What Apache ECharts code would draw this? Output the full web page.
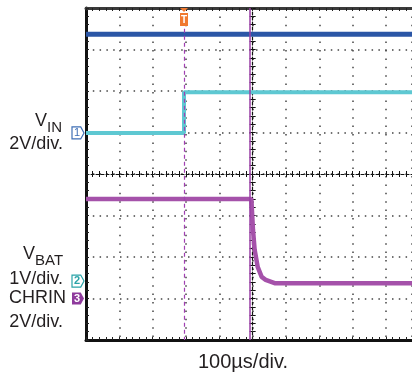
<!DOCTYPE html>
<html>
<head>
<meta charset="utf-8">
<script src="https://cdn.jsdelivr.net/npm/echarts@6/dist/echarts.min.js"></script>
<style>
  html, body { margin: 0; padding: 0; background: #fff; }
  #chart { width: 412px; height: 375px; }
</style>
</head>
<body>
<div id="chart"></div>
<script>
// time in µs relative to screen centre, amplitude in divisions
const blueT = [-500, 478]
const blueV = [3.37, 3.37]

const cyanT = [-500, -206, -206, 478]
const cyanV = [0.99, 0.99, 1.97, 1.97]

const purpleT = [-500, -4, 1, 6, 15, 27, 39, 66, 478]
const purpleV = [-0.6, -0.6, -1.35, -1.83, -2.24, -2.48, -2.55, -2.63, -2.63]

const triggerT = -206
const cursorT = -9

const chLabels = ['1', '2', '3']
const chLevels = [0.99, -2.58, -3.0]

const timeLabel = '100µs/div.'

const FONT = '"Liberation Sans", Arial, Helvetica, sans-serif'
const ink = '#231f20'

const pair = (ts, vs) => ts.map((t, i) => [t, vs[i]])

const chart = echarts.init(document.getElementById('chart'), null, { renderer: 'canvas' })

const pentagon = 'path://M0,0L8,0L11,6L8,12L0,12Z'
const pin = 'path://M0,0L8,0L4,4Z M0,5L8,5L8,18L0,18Z'

const dots = (gap) => ({ show: true, lineStyle: { color: '#444', width: 1.5, type: [1.5, gap] } })

const frameAxis = (extra) => Object.assign({
  type: 'value',
  axisLabel: { show: false },
  axisLine: { show: true, onZero: false, lineStyle: { color: '#111', width: 3 } },
  axisTick: { show: true, inside: true, length: 3, lineStyle: { color: '#222' } },
  minorTick: { show: true, splitNumber: 5, length: 3, lineStyle: { color: '#222' } },
  splitLine: { show: false },
}, extra)

const centreAxis = (inside, extra) => Object.assign({
  type: 'value',
  axisLabel: { show: false },
  axisLine: {
    show: inside, onZero: true, onZeroAxisIndex: 0,
    lineStyle: { color: '#111', width: 1.2, type: [3, 2] },
  },
  axisTick: { show: true, inside, length: 3, lineStyle: { color: '#111' } },
  minorTick: { show: true, splitNumber: 5, length: 3, lineStyle: { color: '#111' } },
  splitLine: { show: false },
}, extra)

const xRange = { min: -500, max: 478, interval: 100 }
const yRange = { min: -4, max: 4, interval: 1 }

const text = (str, x, y, align, size) => ({
  type: 'text',
  x, y,
  style: { text: str, font: `${size || 18}px ${FONT}`, fill: ink, align: align || 'right', verticalAlign: 'middle' },
})

chart.setOption({
  animation: false,
  grid: { left: 86, right: 0, top: 8, bottom: 35 },
  xAxis: [
    frameAxis(Object.assign({ position: 'bottom', splitLine: dots(6.9) }, xRange)),
    frameAxis(Object.assign({ position: 'top', axisLine: { show: true, onZero: false, lineStyle: { color: '#3a3a3a', width: 3 } } }, xRange)),
    centreAxis(true, xRange),
    centreAxis(false, xRange),
  ],
  yAxis: [
    frameAxis(Object.assign({ position: 'left', splitLine: dots(5.3) }, yRange)),
    centreAxis(true, yRange),
    centreAxis(false, yRange),
  ],
  series: [
    {
      name: 'CHRIN',
      type: 'line',
      data: pair(blueT, blueV),
      showSymbol: false,
      lineStyle: { color: '#2b56a6', width: 5 },
      markLine: {
        silent: true,
        symbol: 'none',
        label: { show: false },
        data: [
          { xAxis: cursorT, lineStyle: { color: '#9a3fa6', width: 1.5, type: 'solid' } },
          [
            { coord: [triggerT, 3.5], lineStyle: { color: '#a13fb2', width: 1.2, type: [4, 3] } },
            { coord: [triggerT, -4] },
          ],
        ],
      },
      markPoint: {
        silent: true,
        data: [{
          coord: [triggerT, 4],
          symbol: pin,
          symbolSize: [8, 18],
          symbolOffset: [0, 9],
          itemStyle: { color: '#f07a30' },
          label: { show: true, formatter: 'T', color: '#fff', fontSize: 10, fontWeight: 'bold', offset: [0, 3] },
        }],
      },
    },
    {
      name: 'VIN',
      type: 'line',
      data: pair(cyanT, cyanV),
      showSymbol: false,
      lineStyle: { color: '#5ec8d2', width: 4 },
      markPoint: {
        silent: true,
        data: [
          {
            coord: [-500, chLevels[0]], symbol: pentagon, symbolSize: [12, 12], symbolOffset: [-8, 0],
            itemStyle: { color: '#fff', borderColor: '#3f6fb5', borderWidth: 1.2 },
            label: { show: true, formatter: chLabels[0], color: '#3f6fb5', fontSize: 11, offset: [-1, 0] },
          },
          {
            coord: [-500, chLevels[1]], symbol: pentagon, symbolSize: [12, 12], symbolOffset: [-8, 0],
            itemStyle: { color: '#fff', borderColor: '#2aa3a8', borderWidth: 1.2 },
            label: { show: true, formatter: chLabels[1], color: '#2aa3a8', fontSize: 11, fontWeight: 'bold', offset: [-1, 0] },
          },
        ],
      },
    },
    {
      name: 'VBAT',
      type: 'line',
      data: pair(purpleT, purpleV),
      showSymbol: false,
      lineStyle: { color: '#a552aa', width: 4.5 },
      markPoint: {
        silent: true,
        data: [{
          coord: [-500, chLevels[2]], symbol: pentagon, symbolSize: [12, 12], symbolOffset: [-8, 0],
          itemStyle: { color: '#8e3a9c' },
          label: { show: true, formatter: chLabels[2], color: '#fff', fontSize: 11, fontWeight: 'bold', offset: [-1, 0] },
        }],
      },
    },
  ],
  graphic: [
    text('V', 47, 121),
    text('IN', 47, 128, 'left', 15),
    text('2V/div.', 63, 144),
    text('V', 35, 254),
    text('BAT', 35, 261, 'left', 15),
    text('1V/div.', 63, 279),
    text('CHRIN', 66, 298),
    text('2V/div.', 63, 322),
    text(timeLabel, 243, 362, 'center', 20),
  ],
})
</script>
</body>
</html>
